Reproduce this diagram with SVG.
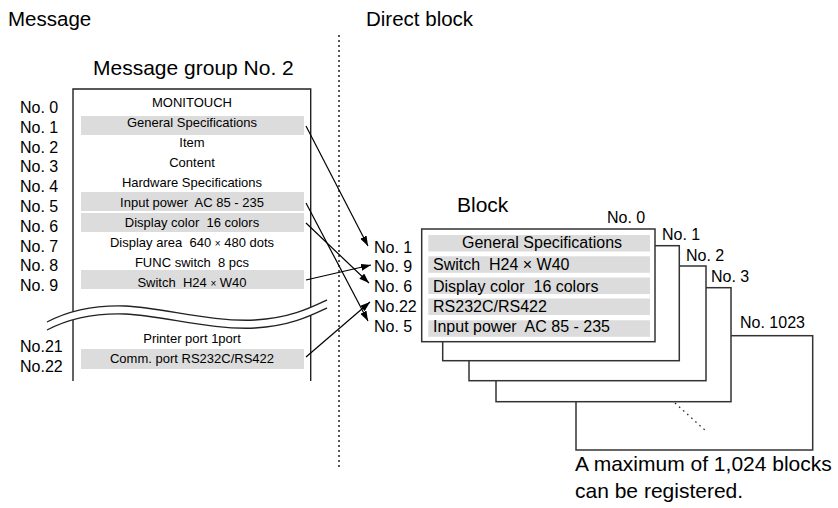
<svg xmlns="http://www.w3.org/2000/svg" width="838" height="508" viewBox="0 0 838 508">
<style>
text{font-family:"Liberation Sans",Arial,sans-serif;fill:#000;white-space:pre}
.h{font-size:20.5px}
.h2{font-size:21px}
.lbl{font-size:16px}
.mt{font-size:13px;text-anchor:middle}
.bt{font-size:16px}
.bar{fill:#dcdcdc}
.edge{fill:none;stroke:#222;stroke-width:1.4}
.blk{fill:#fff;stroke:#333;stroke-width:1.5}
.arr{fill:none;stroke:#000;stroke-width:1.2;marker-end:url(#ah)}
.x{font-size:10px}
</style>
<defs>
<marker id="ah" viewBox="0 0 10 7" refX="10" refY="3.5" markerWidth="10" markerHeight="7" markerUnits="userSpaceOnUse" orient="auto"><path d="M0,0 L10,3.5 L0,7 Z" fill="#000"/></marker>
</defs>

<g id="headers">
<text class="h" x="8" y="26">Message</text>
<text class="h" x="366" y="26">Direct block</text>
</g>

<g id="divider">
<line x1="339" y1="35" x2="339" y2="470" stroke="#222" stroke-width="1.5" stroke-dasharray="2 3"/>
</g>

<g id="message-group">
<text class="h2" x="93" y="75">Message group No. 2</text>
<path class="edge" d="M73,381 V89 H310.7 V381"/>
<rect class="bar" x="81" y="116" width="223" height="19"/>
<rect class="bar" x="81" y="192" width="223" height="19"/>
<rect class="bar" x="81" y="213" width="223" height="19"/>
<rect class="bar" x="81" y="270" width="223" height="19"/>
<rect class="bar" x="81" y="349" width="223" height="20"/>
<text class="mt" x="192" y="107.3">MONITOUCH</text>
<text class="mt" x="192" y="127.3">General Specifications</text>
<text class="mt" x="192" y="147.3">Item</text>
<text class="mt" x="192" y="167.3">Content</text>
<text class="mt" x="192" y="187.3">Hardware Specifications</text>
<text class="mt" x="192" y="207.3">Input power  AC 85 - 235</text>
<text class="mt" x="192" y="227.3">Display color  16 colors</text>
<text class="mt" x="192" y="247.3">Display area  640 <tspan class="x">×</tspan> 480 dots</text>
<text class="mt" x="192" y="267.3">FUNC switch  8 pcs</text>
<text class="mt" x="192" y="287.3">Switch  H24 <tspan class="x">×</tspan> W40</text>
<text class="mt" x="192" y="343.3">Printer port 1port</text>
<text class="mt" x="192" y="363.3">Comm. port RS232C/RS422</text>
<path d="M47,322 C70,310 95,305 125,306 C165,308 210,322 255,320 C290,318 310,308 327,300 L327,308 C310,316 290,326 255,328 C210,330 165,316 125,314 C95,313 70,318 47,330 Z" fill="#fff"/>
<path class="edge" d="M47,322 C70,310 95,305 125,306 C165,308 210,322 255,320 C290,318 310,308 327,300"/>
<path class="edge" d="M47,330 C70,318 95,313 125,314 C165,316 210,330 255,328 C290,326 310,316 327,308"/>
</g>

<g id="message-numbers">
<text class="lbl" x="20" y="113">No. 0</text>
<text class="lbl" x="20" y="132.8">No. 1</text>
<text class="lbl" x="20" y="152.6">No. 2</text>
<text class="lbl" x="20" y="172.4">No. 3</text>
<text class="lbl" x="20" y="192.2">No. 4</text>
<text class="lbl" x="20" y="212">No. 5</text>
<text class="lbl" x="20" y="231.8">No. 6</text>
<text class="lbl" x="20" y="251.6">No. 7</text>
<text class="lbl" x="20" y="271.4">No. 8</text>
<text class="lbl" x="20" y="291.2">No. 9</text>
<text class="lbl" x="20" y="351.7">No.21</text>
<text class="lbl" x="20" y="371.7">No.22</text>
</g>

<g id="block-stack">
<text class="h2" x="457" y="211.7">Block</text>
<rect class="blk" x="576" y="335.7" width="236.7" height="114.3"/>
<line x1="675" y1="403" x2="707" y2="432" stroke="#222" stroke-width="1.3" stroke-dasharray="1.5 4"/>
<rect class="blk" x="496" y="287.7" width="235" height="114"/>
<rect class="blk" x="469" y="266" width="237" height="114.7"/>
<rect class="blk" x="442.7" y="245.7" width="236.6" height="115"/>
<rect class="blk" x="421.7" y="229" width="233.3" height="112.7"/>
<rect class="bar" x="428.3" y="235" width="221.7" height="16.5"/>
<rect class="bar" x="428.3" y="256.3" width="221.7" height="16.5"/>
<rect class="bar" x="428.3" y="277.5" width="221.7" height="16.5"/>
<rect class="bar" x="428.3" y="298.5" width="221.7" height="16.5"/>
<rect class="bar" x="428.3" y="320.3" width="221.7" height="16.5"/>
<text class="bt" x="542" y="248.3" text-anchor="middle">General Specifications</text>
<text class="bt" x="433" y="270">Switch  H24 × W40</text>
<text class="bt" x="433" y="291.7">Display color  16 colors</text>
<text class="bt" x="433" y="311.7">RS232C/RS422</text>
<text class="bt" x="433" y="331.7">Input power  AC 85 - 235</text>
<text class="lbl" x="607" y="223.3">No. 0</text>
<text class="lbl" x="662" y="240">No. 1</text>
<text class="lbl" x="686" y="260.7">No. 2</text>
<text class="lbl" x="711" y="282.3">No. 3</text>
<text class="lbl" x="740" y="328.3">No. 1023</text>
<text class="h2" x="575" y="471">A maximum of 1,024 blocks</text>
<text class="h2" x="575" y="498.3">can be registered.</text>
</g>

<g id="block-numbers">
<text class="lbl" x="374" y="252.5">No. 1</text>
<text class="lbl" x="374" y="272.3">No. 9</text>
<text class="lbl" x="374" y="292">No. 6</text>
<text class="lbl" x="374" y="311.8">No.22</text>
<text class="lbl" x="374" y="331.6">No. 5</text>
</g>

<g id="connectors">
<line class="arr" x1="306" y1="126" x2="368" y2="246"/>
<line class="arr" x1="306" y1="203" x2="368" y2="321"/>
<line class="arr" x1="306" y1="223" x2="369" y2="283"/>
<line class="arr" x1="306" y1="280" x2="371" y2="265"/>
<line class="arr" x1="306" y1="357" x2="370" y2="302"/>
</g>
</svg>
